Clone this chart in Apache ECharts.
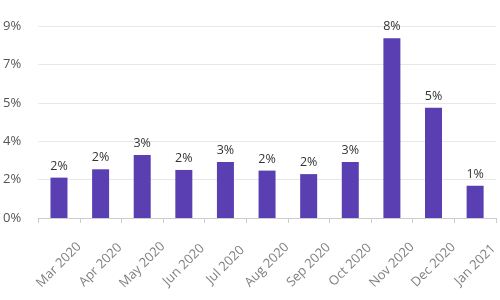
<!DOCTYPE html>
<html><head><meta charset="utf-8">
<script src="https://cdn.jsdelivr.net/npm/echarts@6/dist/echarts.min.js"></script>
<style>html,body{margin:0;padding:0;background:#fff}#c{width:500px;height:300px}</style>
</head><body><div id="c"></div>
<script>
const categories = ['Mar 2020','Apr 2020','May 2020','Jun 2020','Jul 2020','Aug 2020','Sep 2020','Oct 2020','Nov 2020','Dec 2020','Jan 2021'];
const values = [1.84, 2.22, 2.87, 2.19, 2.55, 2.16, 2.0, 2.55, 8.19, 5.03, 1.47];
const yMax = 8.75;
const yStep = 1.75;

const chart = echarts.init(document.getElementById('c'), null, {renderer:'canvas'});
chart.setOption({
  animation: false,
  grid: {left: 35, right: 4, top: 26, bottom: 82, containLabel: false},
  xAxis: {
    type: 'category', data: categories,
    axisLine: {lineStyle: {color: '#cccccc'}},
    axisTick: {show: true, alignWithLabel: false, lineStyle: {color: '#cccccc'}},
    axisLabel: {rotate: 45, align: 'center', verticalAlign: 'middle', margin: 47, color: '#808080', fontSize: 13, fontFamily: 'Open Sans', interval: 0}
  },
  yAxis: {
    type: 'value', min: 0, max: yMax, interval: yStep,
    axisLine: {show: false}, axisTick: {show: false},
    splitLine: {lineStyle: {color: '#e8e8e8'}},
    axisLabel: {formatter: v => Math.round(v) + '%', color: '#555', fontSize: 13, fontFamily: 'Open Sans', margin: 17}
  },
  series: [{
    type: 'bar', data: values, barWidth: 17,
    itemStyle: {color: '#5a3fb3'},
    label: {show: true, position: 'top', formatter: p => Math.round(p.value) + '%', color: '#333', fontSize: 12.5, fontFamily: 'Open Sans', distance: 5}
  }]
});
</script></body></html>
